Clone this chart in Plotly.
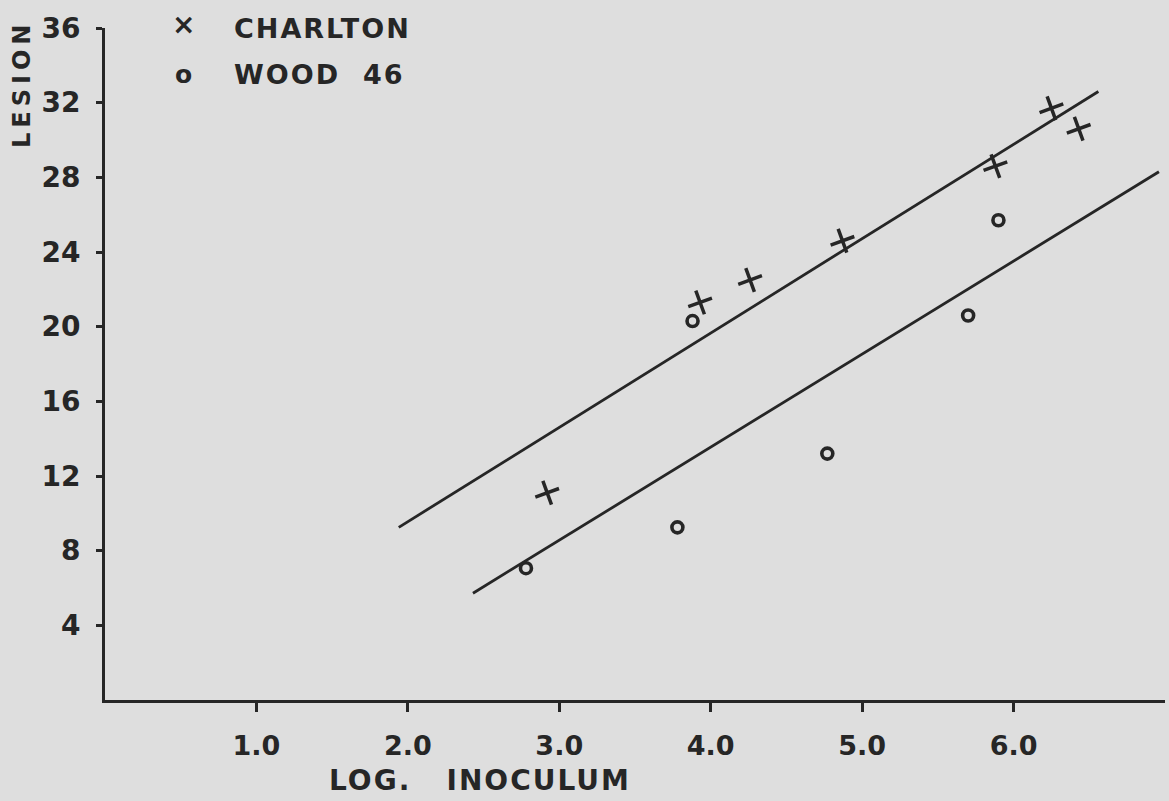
import plotly.graph_objects as go

# Data
charlton_x = [2.92, 3.93, 4.26, 4.87, 5.88, 6.25, 6.43]
charlton_y = [11.1, 21.3, 22.5, 24.6, 28.6, 31.7, 30.6]
wood_x = [2.78, 3.78, 3.88, 4.77, 5.70, 5.90]
wood_y = [7.06, 9.25, 20.3, 13.2, 20.6, 25.7]
charlton_line_x = [1.94, 6.56]
charlton_line_y = [9.25, 32.6]
wood_line_x = [2.43, 6.96]
wood_line_y = [5.72, 28.3]
x_tick_vals = [1, 2, 3, 4, 5, 6]
x_tick_text = ["1.0", "2.0", "3.0", "4.0", "5.0", "6.0"]
y_tick_vals = [4, 8, 12, 16, 20, 24, 28, 32, 36]
y_tick_text = ["4", "8", "12", "16", "20", "24", "28", "32", "36"]

INK = "#262626"
BG = "#dedede"
FONT = "DejaVu Sans"


def spaced(s, px):
    return '<span style="letter-spacing:%dpx">%s</span>' % (px, s)


fig = go.Figure()
fig.add_trace(go.Scatter(x=charlton_line_x, y=charlton_line_y, mode="lines",
                         line=dict(color=INK, width=2.8), showlegend=False, hoverinfo="skip"))
fig.add_trace(go.Scatter(x=wood_line_x, y=wood_line_y, mode="lines",
                         line=dict(color=INK, width=2.8), showlegend=False, hoverinfo="skip"))
fig.add_trace(go.Scatter(x=charlton_x, y=charlton_y, mode="markers", name="CHARLTON",
                         marker=dict(symbol="cross-thin", size=18, angle=-20,
                                     line=dict(color=INK, width=3.5)), showlegend=False))
fig.add_trace(go.Scatter(x=wood_x, y=wood_y, mode="markers", name="WOOD 46",
                         marker=dict(symbol="circle-open", size=11, color=INK,
                                     line=dict(color=INK, width=3.6)), showlegend=False))

bold = lambda size: dict(family=FONT, size=size, color=INK, weight="bold")
ann = []
ann.append(dict(xref="paper", yref="paper", x=(183 - 105) / 1060, y=(700 - 24) / 672,
                text="×", showarrow=False, font=bold(28),
                xanchor="center", yanchor="middle"))
ann.append(dict(xref="paper", yref="paper", x=(183 - 105) / 1060, y=(700 - 75) / 672,
                text="o", showarrow=False, font=bold(25),
                xanchor="center", yanchor="middle"))
ann.append(dict(xref="paper", yref="paper", x=(232 - 105) / 1060, y=(700 - 28) / 672,
                text=spaced("CHARLTON", 2), showarrow=False, font=bold(27),
                xanchor="left", yanchor="middle"))
ann.append(dict(xref="paper", yref="paper", x=(232 - 105) / 1060, y=(700 - 75) / 672,
                text=spaced("WOOD\u00a0\u00a046", 2), showarrow=False, font=bold(27),
                xanchor="left", yanchor="middle"))
ann.append(dict(xref="paper", yref="paper", x=(327 - 105) / 1060, y=(700 - 781) / 672,
                text=spaced("LOG.\u00a0\u00a0\u00a0INOCULUM", 2), showarrow=False,
                font=bold(28), xanchor="left", yanchor="middle"))
ann.append(dict(xref="paper", yref="paper", x=(22 - 105) / 1060, y=(700 - 84) / 672,
                text=spaced("LESION", 5), showarrow=False, textangle=-90,
                font=bold(24), xanchor="center", yanchor="middle"))

fig.update_layout(
    width=1169, height=801,
    margin=dict(l=105, r=4, t=28, b=101),
    paper_bgcolor=BG, plot_bgcolor=BG,
    annotations=ann,
    showlegend=False,
    font=dict(family=FONT, color=INK),
)
fig.update_xaxes(range=[0, 7], showgrid=False, zeroline=False, showline=True,
                 linecolor=INK, linewidth=2.8, ticks="outside", ticklen=9, tickwidth=2.5,
                 tickcolor=INK, tickvals=x_tick_vals, ticktext=x_tick_text,
                 tickfont=bold(27), ticklabelstandoff=11)
fig.update_yaxes(range=[0, 36], showgrid=False, zeroline=False, showline=True,
                 linecolor=INK, linewidth=2.8, ticks="outside", ticklen=6, tickwidth=2.5,
                 tickcolor=INK, tickvals=y_tick_vals, ticktext=y_tick_text,
                 tickfont=bold(28), ticklabelstandoff=10)

fig.write_html("out.html")
